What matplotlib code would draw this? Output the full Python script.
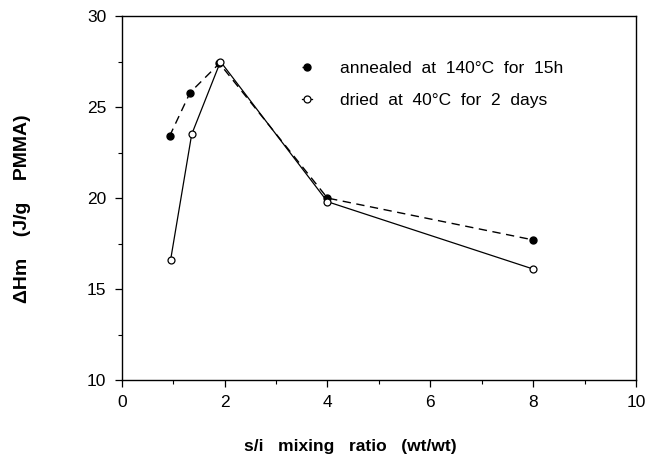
import matplotlib
matplotlib.use("Agg")
import matplotlib.pyplot as plt
from matplotlib.ticker import MultipleLocator

plt.rcParams['font.family'] = ['Liberation Sans', 'DejaVu Sans']

# s/i mixing ratio (wt/wt) vs heat of fusion
annealed_x = [0.93, 1.33, 1.9, 4.0, 8.0]
annealed_y = [23.4, 25.8, 27.4, 20.0, 17.7]
dried_x = [0.95, 1.36, 1.92, 4.0, 8.0]
dried_y = [16.6, 23.5, 27.5, 19.8, 16.1]

x_ticks = [0, 2, 4, 6, 8, 10]
y_ticks = [10, 15, 20, 25, 30]

fig = plt.figure(figsize=(6.51, 4.59), dpi=100)
ax = fig.add_axes([0.187, 0.172, 0.790, 0.793])

ax.plot(annealed_x, annealed_y, color='black', lw=1.0, ls=(0, (6, 4)),
        marker='o', ms=5, mfc='black', mec='black',
        label='annealed  at  140°C  for  15h')
ax.plot(dried_x, dried_y, color='black', lw=0.9, ls='-',
        marker='o', ms=5, mfc='white', mec='black', mew=0.9,
        label='dried  at  40°C  for  2  days')

ax.set_xlim(0, 10)
ax.set_ylim(10, 30)
ax.set_xticks(x_ticks)
ax.set_yticks(y_ticks)
ax.xaxis.set_minor_locator(MultipleLocator(1))
ax.yaxis.set_minor_locator(MultipleLocator(2.5))
ax.tick_params(which='major', direction='out', length=5, width=0.9,
               labelsize=12.5, pad=6)
ax.tick_params(which='minor', direction='out', length=3, width=0.8)
ax.tick_params(top=False, right=False, which='both')
for s in ax.spines.values():
    s.set_linewidth(1.0)

ax.set_xlabel('s/i   mixing   ratio   (wt/wt)', fontsize=12.5,
              fontweight='bold')
ax.xaxis.set_label_coords(0.445, -0.162)
ax.set_ylabel('ΔHm    (J/g    PMMA)', fontsize=14, fontweight='bold')
ax.yaxis.set_label_coords(-0.177, 0.47)

ax.legend(loc='upper left', bbox_to_anchor=(0.32, 0.92), frameon=False,
          fontsize=12.5, handlelength=0.6, handletextpad=1.6,
          labelspacing=0.95, numpoints=1)

fig.savefig('out.png', dpi=100)
